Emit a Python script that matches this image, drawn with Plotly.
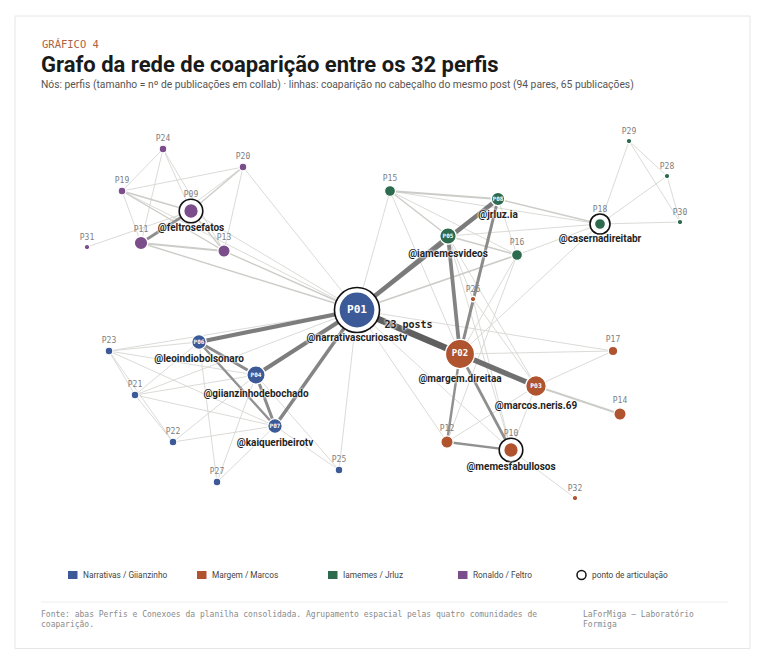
import math
import plotly.graph_objects as go

# ---------------- data ----------------
node_ids = ["P01","P02","P03","P04","P05","P06","P07","P08","P09","P10",
            "P11","P12","P13","P14","P15","P16","P17","P18","P19","P20",
            "P21","P22","P23","P24","P25","P26","P27","P28","P29","P30","P31","P32"]
node_comm = ["N","M","M","N","I","N","N","I","R","M",
             "R","M","R","M","I","I","M","I","R","R",
             "N","N","N","R","N","M","N","I","I","I","R","M"]
# layout coordinates of the force layout (canvas units)
node_x = [357,460,536,256,448,199,275,498,191,511,
          141,447,224,620,390,517,613,600,122,243,
          135,173,109,163,339,473,217,667,629,680,87,575]
node_y = [310,354,386,375,236,342,426,199,211,450,
          243,442,251,414,191,255,351,224,191,167,
          395,442,351,149,470,299,482,176,141,222,247,498]
node_posts = [43,28,14,11,9,7,7,6,7,7,
              6,5,5,5,4,4,3,4,2,2,
              2,2,2,2,2,1,2,1,1,1,1,1]
handles = {"P01":"@narrativascuriosastv","P02":"@margem.direitaa","P03":"@marcos.neris.69",
           "P04":"@giianzinhodebochado","P05":"@iamemesvideos","P06":"@leoindiobolsonaro",
           "P07":"@kaiqueribeirotv","P08":"@jrluz.ia","P09":"@feltrosefatos",
           "P10":"@memesfabullosos","P18":"@casernadireitabr"}
articulation = ["P01","P09","P10","P18"]

edge_src = ["P01","P02","P01","P01","P05","P08","P01","P01","P01","P06","P04","P06",
            "P02","P02","P12","P09","P03","P11","P15","P01","P05",
            "P24","P24","P24","P24","P19","P19","P19","P19","P20","P20","P20","P20",
            "P31","P09","P11","P13","P09","P19",
            "P15","P15","P15","P15","P15","P05","P05","P08","P08","P16","P16",
            "P18","P18","P18","P29","P29","P28","P18","P05","P05","P05","P16",
            "P23","P23","P23","P23","P23","P21","P21","P21","P21","P22","P22",
            "P27","P27","P27","P25","P25","P25","P21","P23",
            "P02","P03","P03","P03","P01","P01","P01","P10","P26","P26","P26"]
edge_dst = ["P02","P03","P08","P05","P02","P02","P06","P04","P07","P04","P07","P07",
            "P12","P10","P10","P11","P14","P13","P08","P16","P08",
            "P19","P11","P09","P13","P09","P11","P13","P20","P09","P11","P13","P01",
            "P09","P13","P01","P01","P01","P01",
            "P18","P05","P16","P01","P02","P18","P16","P18","P16","P18","P02",
            "P29","P28","P30","P28","P30","P30","P02","P26","P03","P10","P12",
            "P06","P21","P22","P07","P04","P22","P04","P07","P06","P04","P07",
            "P06","P04","P07","P07","P04","P01","P01","P01",
            "P17","P17","P10","P12","P10","P12","P17","P32","P10","P02","P03"]
edge_w = [23,17,13,9,10,7,12,12,9,7,7,5,
          5,6,5,6,4,3,3,3,2,
          1,1,1,1,2,1,2,1,2,1,1,1,
          1,2,2,2,1,1,
          1,2,1,1,1,1,2,2,1,1,1,
          1,1,1,1,1,1,1,1,1,1,1,
          1,1,1,1,1,1,1,1,1,1,1,
          1,1,1,1,1,1,1,1,
          1,1,1,1,1,1,1,1,1,2,1]

comm_names = {"N":"Narrativas / Giianzinho","M":"Margem / Marcos","I":"Iamemes / Jrluz","R":"Ronaldo / Feltro"}
comm_colors = {"N":"#3D5A98","M":"#B0542F","I":"#2D6B4F","R":"#7B4E8B"}
legend_order = ["N","M","I","R"]

title = "Grafo da rede de coaparição entre os 32 perfis"
kicker = "GRÁFICO 4"
subtitle = "Nós: perfis (tamanho = nº de publicações em collab) · linhas: coaparição no cabeçalho do mesmo post (94 pares, 65 publicações)"
source = "Fonte: abas Perfis e Conexoes da planilha consolidada. Agrupamento espacial pelas quatro comunidades de<br>coaparição."
credit = "LaForMiga — Laboratório<br>Formiga"

# ---------------- styles ----------------
W, H = 763, 657
BODY = 8  # browser default page margin
SANS = "Roboto, Liberation Sans, Arial, sans-serif"
MONO = "DejaVu Sans Mono, Liberation Mono, monospace"
HALO = "0px 0px 2px #ffffff, 0px 0px 2px #ffffff, 0px 0px 3px #ffffff"

pos = {n: (x, y) for n, x, y in zip(node_ids, node_x, node_y)}
diam = {n: 5.5 * math.sqrt(p) for n, p in zip(node_ids, node_posts)}

def edge_style(w):
    width = 0.9 * w ** 0.62
    if w <= 1:
        col = "rgb(214,214,210)"
    elif w <= 4:
        col = "rgb(204,204,200)"
    else:
        t = min(1.0, (w - 5) / 18.0)
        g = int(145 - t * 50)
        col = f"rgb({g},{g},{g})"
    return width, col

fig = go.Figure()

# edges (light first)
order = sorted(range(len(edge_w)), key=lambda i: edge_w[i])
for i in order:
    a, b = pos[edge_src[i]], pos[edge_dst[i]]
    wdt, col = edge_style(edge_w[i])
    fig.add_trace(go.Scatter(x=[a[0], b[0]], y=[a[1], b[1]], mode="lines",
                             line=dict(width=wdt, color=col), hoverinfo="skip",
                             showlegend=False))

# articulation rings
fig.add_trace(go.Scatter(
    x=[pos[n][0] for n in articulation], y=[pos[n][1] for n in articulation],
    mode="markers", hoverinfo="skip", showlegend=False,
    marker=dict(size=[diam[n] + 9 for n in articulation], color="white", opacity=1,
                line=dict(color="#111111", width=1.6))))

# nodes
fig.add_trace(go.Scatter(
    x=node_x, y=node_y, mode="markers", showlegend=False,
    text=node_ids, hoverinfo="text",
    marker=dict(size=[diam[n] for n in node_ids], opacity=1,
                color=[comm_colors[c] for c in node_comm],
                line=dict(color="white", width=1.3))))

# inner labels for the largest nodes
inner = node_ids[:8]
fig.add_trace(go.Scatter(
    x=[pos[n][0] for n in inner], y=[pos[n][1] for n in inner], mode="text",
    text=inner, hoverinfo="skip", showlegend=False,
    textfont=dict(family=MONO, color="white", weight="bold",
                  size=[max(6, diam[n] * 0.31) for n in inner])))

# small labels above the other nodes
outer = node_ids[8:]
fig.add_trace(go.Scatter(
    x=[pos[n][0] for n in outer],
    y=[pos[n][1] - diam[n] / 2 - 6.5 - (2 if n in articulation else 0) for n in outer],
    mode="text", text=outer, hoverinfo="skip", showlegend=False,
    textfont=dict(family=MONO, color="#808080", size=8)))

# handles
hn = list(handles.keys())
fig.add_trace(go.Scatter(
    x=[pos[n][0] for n in hn],
    y=[pos[n][1] + 1.1 * diam[n] / 2 + 9 for n in hn],
    mode="text", text=[handles[n] for n in hn], hoverinfo="skip", showlegend=False,
    textfont=dict(family=SANS, color="#1f1f1f", size=10, weight="bold", shadow=HALO)))

# strongest edge label
imax = max(range(len(edge_w)), key=lambda i: edge_w[i])
a, b = pos[edge_src[imax]], pos[edge_dst[imax]]
fig.add_trace(go.Scatter(
    x=[(a[0] + b[0]) / 2], y=[(a[1] + b[1]) / 2 - 7], mode="text",
    text=[f"{edge_w[imax]} posts"], hoverinfo="skip", showlegend=False,
    textfont=dict(family=MONO, color="#222222", size=10, weight="bold", shadow=HALO)))

shapes = [
    dict(type="rect", xref="x", yref="y", x0=15, y0=16, x1=750, y1=648.5,
         line=dict(color="#e6e6e6", width=1), fillcolor="white", layer="below"),
    dict(type="line", xref="x", yref="y", x0=41, y0=602, x1=728, y1=602,
         line=dict(color="#eeeeee", width=1), layer="below"),
]
annotations = [
    dict(x=40, y=44, text=kicker, font=dict(family=MONO, size=10.5, color="#B0613E", weight=500)),
    dict(x=39, y=64, text=title, font=dict(family=SANS, size=22, color="#1a1a1a", weight="bold")),
    dict(x=39, y=84, text=subtitle, font=dict(family=SANS, size=10.3, color="#555555")),
    dict(x=39, y=619, text=source, font=dict(family=MONO, size=8, color="#8a8a8a"), align="left"),
    dict(x=581, y=619, text=credit, font=dict(family=MONO, size=8, color="#8a8a8a"), align="left"),
]

# legend
leg_x = [68, 197, 328, 458]
for lx, c in zip(leg_x, legend_order):
    shapes.append(dict(type="rect", xref="x", yref="y", x0=lx, x1=lx + 9.5, y0=571, y1=579,
                       fillcolor=comm_colors[c], line=dict(width=0)))
    annotations.append(dict(x=lx + 13, y=575, text=comm_names[c],
                            font=dict(family=SANS, size=8.3, color="#444444")))
shapes.append(dict(type="circle", xref="x", yref="y", x0=577, x1=586, y0=570.5, y1=579.5,
                   line=dict(color="#111111", width=1.5)))
annotations.append(dict(x=590, y=575, text="ponto de articulação",
                        font=dict(family=SANS, size=8.3, color="#444444")))

for an in annotations:
    an.update(xref="x", yref="y", showarrow=False, xanchor="left", yanchor="middle")

fig.update_layout(
    width=W - 2 * BODY, height=H - 2 * BODY, margin=dict(l=0, r=0, t=0, b=0),
    paper_bgcolor="white", plot_bgcolor="white",
    xaxis=dict(range=[BODY, W - BODY], visible=False, fixedrange=True),
    yaxis=dict(range=[H - BODY, BODY], visible=False, fixedrange=True),
    shapes=shapes, annotations=annotations, showlegend=False,
)

fig.write_html("out.html")
